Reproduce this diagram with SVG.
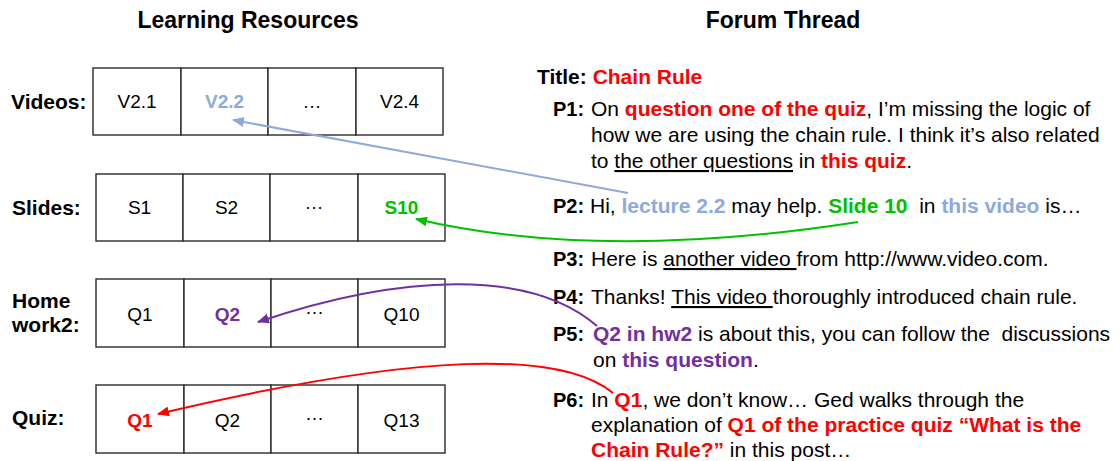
<svg xmlns="http://www.w3.org/2000/svg" width="1119" height="461" viewBox="0 0 1119 461">
  <style>
    text { font-family: "Liberation Sans", Arial, sans-serif; fill: #000; }
    .head { font-size: 23px; font-weight: bold; text-anchor: middle; }
    .rowlabel { font-size: 21px; font-weight: bold; }
    .cell { fill: #fff; stroke: #2a2a2a; stroke-width: 1.4; }
    .ct { font-size: 19px; text-anchor: middle; }
    .body { font-size: 21px; white-space: pre; }
    .pl { font-weight: bold; font-size: 20px; }
    .b { font-weight: bold; }
    .red { fill: #ff0000; }
    .blue { fill: #8eaadb; }
    .green { fill: #00c000; }
    .purple { fill: #7030a0; }
    .ul { text-decoration: underline; }
    .link { fill: none; stroke-width: 2; }
  </style>
  <defs>
    <marker id="ah-blue" viewBox="0 0 12 10" refX="11" refY="5" markerWidth="12" markerHeight="10" markerUnits="userSpaceOnUse" orient="auto">
      <path d="M0,0 L12,5 L0,10 z" fill="#8eaadb"/>
    </marker>
    <marker id="ah-green" viewBox="0 0 12 10" refX="11" refY="5" markerWidth="12" markerHeight="10" markerUnits="userSpaceOnUse" orient="auto">
      <path d="M0,0 L12,5 L0,10 z" fill="#00c000"/>
    </marker>
    <marker id="ah-purple" viewBox="0 0 12 10" refX="11" refY="5" markerWidth="12" markerHeight="10" markerUnits="userSpaceOnUse" orient="auto">
      <path d="M0,0 L12,5 L0,10 z" fill="#7030a0"/>
    </marker>
    <marker id="ah-red" viewBox="0 0 12 10" refX="11" refY="5" markerWidth="12" markerHeight="10" markerUnits="userSpaceOnUse" orient="auto">
      <path d="M0,0 L12,5 L0,10 z" fill="#ff0000"/>
    </marker>
  </defs>

  <rect width="1119" height="461" fill="#fff"/>

  <!-- column headings -->
  <text class="head" x="248" y="28">Learning Resources</text>
  <text class="head" x="783" y="28">Forum Thread</text>

  <!-- resource tables -->
  <g id="videos">
    <text class="rowlabel" x="11" y="109">Videos:</text>
    <rect class="cell" x="93" y="68" width="88" height="67"/>
    <rect class="cell" x="181" y="68" width="87" height="67"/>
    <rect class="cell" x="268" y="68" width="88" height="67"/>
    <rect class="cell" x="356" y="68" width="87" height="67"/>
    <text class="ct" x="137" y="108">V2.1</text>
    <text class="ct b blue" x="224.5" y="108">V2.2</text>
    <text class="ct" x="312" y="108">…</text>
    <text class="ct" x="399.5" y="108">V2.4</text>
  </g>

  <g id="slides">
    <text class="rowlabel" x="12" y="215">Slides:</text>
    <rect class="cell" x="96" y="174" width="87" height="67"/>
    <rect class="cell" x="183" y="174" width="87" height="67"/>
    <rect class="cell" x="270" y="174" width="88" height="67"/>
    <rect class="cell" x="358" y="174" width="87" height="67"/>
    <text class="ct" x="139.5" y="214">S1</text>
    <text class="ct" x="226.5" y="214">S2</text>
    <text class="ct" x="314" y="209">…</text>
    <text class="ct b green" x="401.5" y="214">S10</text>
  </g>

  <g id="homework2">
    <text class="rowlabel" x="12" y="308">Home</text>
    <text class="rowlabel" x="12" y="332">work2:</text>
    <rect class="cell" x="96" y="279" width="88" height="68"/>
    <rect class="cell" x="184" y="279" width="87" height="68"/>
    <rect class="cell" x="271" y="279" width="87" height="68"/>
    <rect class="cell" x="358" y="279" width="87" height="68"/>
    <text class="ct" x="140" y="321">Q1</text>
    <text class="ct b purple" x="227.5" y="321">Q2</text>
    <text class="ct" x="314.5" y="314">…</text>
    <text class="ct" x="401.5" y="321">Q10</text>
  </g>

  <g id="quiz">
    <text class="rowlabel" x="12" y="425">Quiz:</text>
    <rect class="cell" x="96" y="385" width="88" height="68"/>
    <rect class="cell" x="184" y="385" width="87" height="68"/>
    <rect class="cell" x="271" y="385" width="87" height="68"/>
    <rect class="cell" x="358" y="385" width="87" height="68"/>
    <text class="ct b red" x="140" y="427">Q1</text>
    <text class="ct" x="227.5" y="427">Q2</text>
    <text class="ct" x="314.5" y="420">…</text>
    <text class="ct" x="401.5" y="427">Q13</text>
  </g>

  <!-- forum thread posts -->
  <g id="title">
    <text class="body b" x="537" y="84" font-size="20">Title: <tspan class="red" font-size="21">Chain Rule</tspan></text>
  </g>

  <g id="p1">
    <text class="pl" x="553" y="116">P1:</text>
    <text class="body" x="591" y="116">On <tspan class="b red">question one of the quiz</tspan>, I’m missing the logic of</text>
    <text class="body" x="591" y="142">how we are using the chain rule. I think it’s also related</text>
    <text class="body" x="591" y="168">to <tspan class="ul">the other questions</tspan> in <tspan class="b red">this quiz</tspan>.</text>
  </g>

  <g id="p2">
    <text class="pl" x="553" y="213">P2:</text>
    <text class="body" x="590" y="213">Hi, <tspan class="b blue">lecture 2.2</tspan> may help. <tspan class="b green">Slide 10</tspan>  in <tspan class="b blue">this video</tspan> is…</text>
  </g>

  <g id="p3">
    <text class="pl" x="553" y="266">P3:</text>
    <text class="body" x="591" y="266">Here is <tspan class="ul">another video </tspan>from http://www.video.com.</text>
  </g>

  <g id="p4">
    <text class="pl" x="553" y="304">P4:</text>
    <text class="body" x="591" y="304">Thanks! <tspan class="ul">This video </tspan>thoroughly introduced chain rule.</text>
  </g>

  <g id="p5">
    <text class="pl" x="553" y="341">P5:</text>
    <text class="body" x="593" y="341"><tspan class="b purple">Q2 in hw2</tspan> is about this, you can follow the  discussions</text>
    <text class="body" x="593" y="367">on <tspan class="b purple">this question</tspan>.</text>
  </g>

  <g id="p6">
    <text class="pl" x="553" y="407">P6:</text>
    <text class="body" x="591" y="407">In <tspan class="b red">Q1</tspan>, we don’t know… Ged walks through the</text>
    <text class="body" x="591" y="432">explanation of <tspan class="b red">Q1 of the practice quiz “What is the</tspan></text>
    <text class="body" x="591" y="457"><tspan class="b red">Chain Rule?”</tspan> in this post…</text>
  </g>

  <!-- references from posts to resources -->
  <g id="connectors">
    <path class="link" stroke="#8eaadb" d="M628,193 L233,120" marker-end="url(#ah-blue)"/>
    <path class="link" stroke="#00c000" d="M858,222 Q600,262 416,219" marker-end="url(#ah-green)"/>
    <path class="link" stroke="#7030a0" d="M597,326 C530,268 400,274 258,322" marker-end="url(#ah-purple)"/>
    <path class="link" stroke="#ff0000" d="M613,393 C560,350 420,352 158,414" marker-end="url(#ah-red)"/>
  </g>
</svg>
